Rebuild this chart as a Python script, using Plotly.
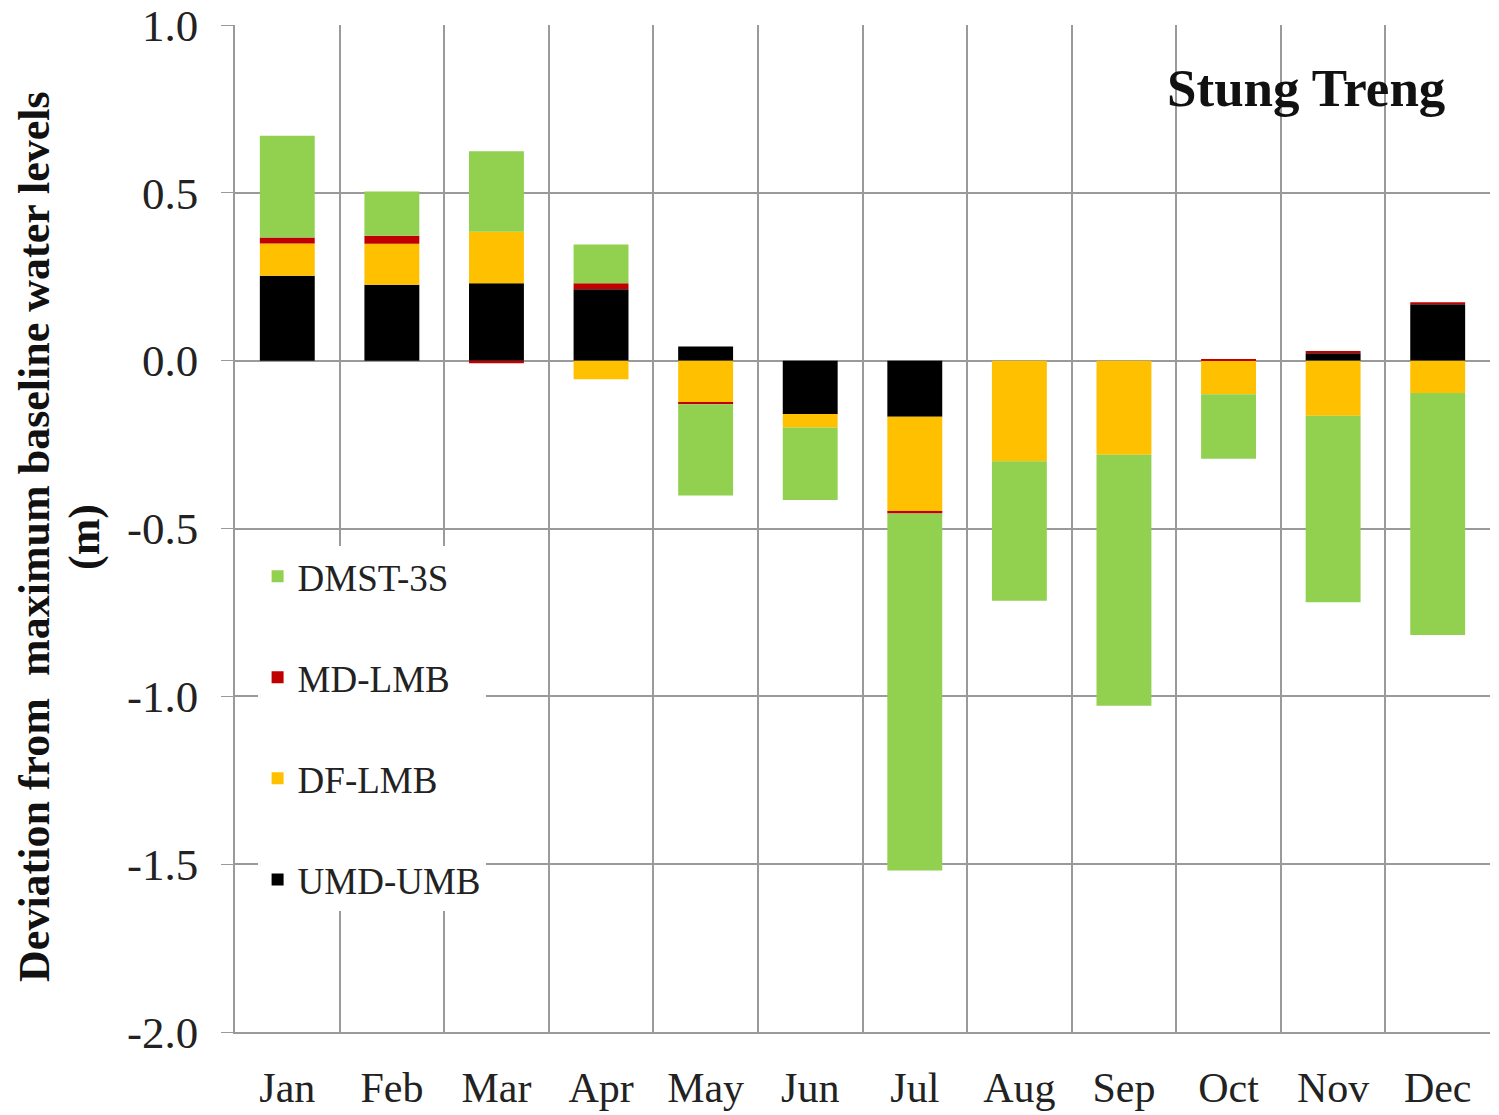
import plotly.graph_objects as go

MONTHS = ["Jan", "Feb", "Mar", "Apr", "May", "Jun", "Jul", "Aug", "Sep", "Oct", "Nov", "Dec"]

# deviation components (m), stacked from zero outward in this order
UMD_UMB = [0.253, 0.226, 0.231, 0.213, 0.042, -0.159, -0.167, 0.0, 0.0, 0.0, 0.022, 0.168]
DF_LMB = [0.096, 0.122, 0.153, -0.055, -0.125, -0.040, -0.283, -0.300, -0.280, -0.100, -0.164, -0.096]
MD_LMB = [0.018, 0.024, -0.008, 0.018, -0.005, 0.0, -0.005, 0.0, 0.0, 0.004, 0.007, 0.006]
DMST_3S = [0.303, 0.132, 0.240, 0.115, -0.272, -0.216, -1.064, -0.415, -0.748, -0.192, -0.556, -0.721]

Y_TICKS = [1.0, 0.5, 0.0, -0.5, -1.0, -1.5, -2.0]
Y_TICK_TEXT = ["1.0", "0.5", "0.0", "-0.5", "-1.0", "-1.5", "-2.0"]

GREEN = "#92D050"
RED = "#C00000"
YELLOW = "#FFC000"
BLACK = "#000000"
GRID = "#9a9a9a"
FONT = "Liberation Serif, Times New Roman, serif"

# (name, values, colour, legend rank)
series = [
    ("UMD-UMB", UMD_UMB, BLACK, 4),
    ("DF-LMB", DF_LMB, YELLOW, 3),
    ("MD-LMB", MD_LMB, RED, 2),
    ("DMST-3S", DMST_3S, GREEN, 1),
]

fig = go.Figure()
for name, vals, color, rank in series:
    fig.add_trace(go.Bar(
        x=MONTHS, y=vals, name=name, legendgroup=name, legendrank=rank,
        marker=dict(color=color, line=dict(width=0)),
    ))

# page body adds an 8px offset; margins compensate so the plot lands where the reference has it
fig.update_layout(
    width=1499,
    height=1115,
    barmode="relative",
    bargap=0.475,
    margin=dict(l=227, r=17, t=17, b=91, autoexpand=False),
    paper_bgcolor="white",
    plot_bgcolor="white",
    font=dict(family=FONT, color="#222", size=38),
    legend=dict(
        x=0.018, y=0.483, xanchor="left", yanchor="top",
        traceorder="grouped", bgcolor="white",
        font=dict(size=37, family=FONT, color="#222"),
        tracegroupgap=50, itemwidth=30,
    ),
    annotations=[
        dict(text="<b>Stung Treng</b>", x=0.853, y=0.937, xref="paper", yref="paper",
             xanchor="center", yanchor="middle", showarrow=False,
             font=dict(size=53, family=FONT, color="#111")),
        dict(text="<b>Deviation from  maximum baseline water levels</b>", textangle=-90,
             x=-0.1594, y=0.4916, xref="paper", yref="paper",
             xanchor="center", yanchor="middle", showarrow=False,
             font=dict(size=44, family=FONT, color="#111")),
        dict(text="<b>(m)</b>", textangle=-90,
             x=-0.1195, y=0.4916, xref="paper", yref="paper",
             xanchor="center", yanchor="middle", showarrow=False,
             font=dict(size=44, family=FONT, color="#111")),
    ],
)

fig.update_xaxes(
    type="category", tickson="boundaries", showgrid=True, gridcolor=GRID, gridwidth=1.5,
    showline=True, linecolor=GRID, linewidth=1.5, ticks="", tickfont=dict(size=42),
    ticklabelstandoff=18, ticklabeloverflow="allow",
)
fig.update_yaxes(
    range=[-2.0, 1.0], tickvals=Y_TICKS, ticktext=Y_TICK_TEXT, showgrid=True,
    gridcolor=GRID, gridwidth=1.5,
    zeroline=False, showline=True, linecolor=GRID, linewidth=1.5,
    ticks="outside", ticklen=12, tickcolor=GRID, tickfont=dict(size=45),
    ticklabelstandoff=14, ticklabeloverflow="allow",
)

fig.write_html("out.html")
